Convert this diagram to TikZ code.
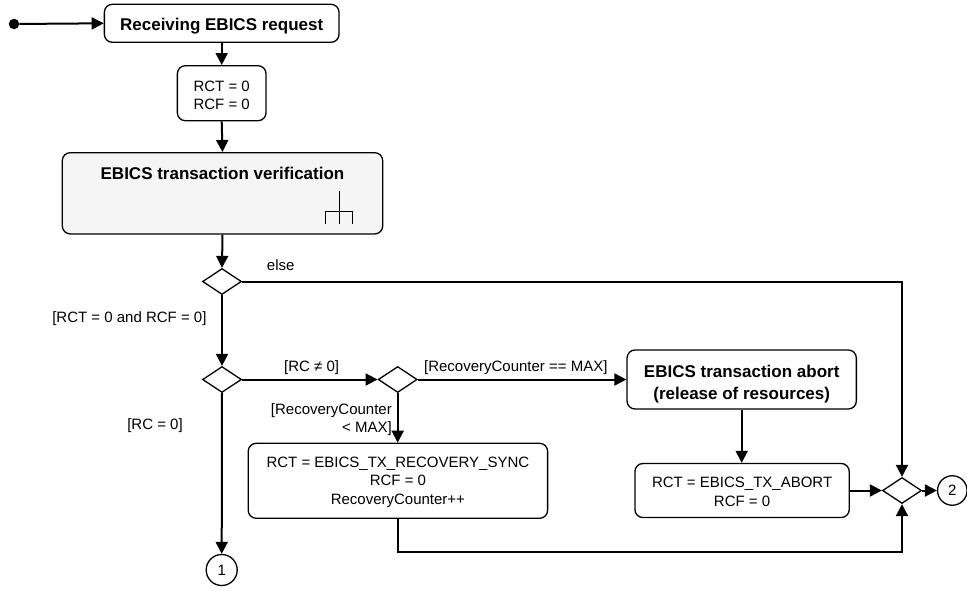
\documentclass[tikz,border=0pt]{standalone}
\usepackage{fontspec}
\setmainfont{Liberation Sans}
\usetikzlibrary{shapes.geometric,arrows.meta}
\begin{document}
\begin{tikzpicture}[x=1pt,y=-1pt,
  conn/.style={line width=2pt,-{Triangle[length=12pt,width=12pt]}},
  box/.style={draw,line width=1.3pt,rounded corners=8pt,inner sep=0pt,align=center,
    text depth=0pt,font=\fontsize{15}{18.7}\selectfont},
  boldbox/.style={box,font=\fontsize{17}{21.6}\selectfont\bfseries},
  dec/.style={draw,diamond,line width=1.3pt,minimum width=39pt,minimum height=26pt,inner sep=0pt},
  conncircle/.style={draw,circle,line width=1.3pt,minimum size=31pt,inner sep=0pt,
    font=\fontsize{15}{18}\selectfont},
  lbl/.style={inner sep=0pt,font=\fontsize{15}{18.7}\selectfont,align=center,anchor=base}
]
\useasboundingbox (0,0) rectangle (967,590);

% nodes
\node[circle,fill=black,minimum size=10.5pt,inner sep=0pt] (start) at (14,24) {};
\node[boldbox,text height=13.6pt,minimum width=234.7pt,minimum height=38pt] (recv) at (221.7,23.3) {Receiving EBICS request};
\node[box,text height=33pt,minimum width=88.7pt,minimum height=55pt] (rct) at (221.7,93.2) {RCT = 0\\RCF = 0};
\node[box,fill=black!4,minimum width=320.4pt,minimum height=81.3pt] (verif) at (222.5,193.3) {};
\node[lbl,font=\fontsize{17}{21}\selectfont\bfseries] (veriftext) at (222.5,179.4) {EBICS transaction verification};
\node[dec] (d1) at (222,281.5) {};
\node[dec] (d2) at (222,379.5) {};
\node[dec] (d2b) at (397.7,379.5) {};
\node[boldbox,text height=39.8pt,minimum width=229.3pt,minimum height=59pt] (abort) at (741.7,379.5) {EBICS transaction abort\\(release of resources)};
\node[box,text height=47.2pt,minimum width=299.4pt,minimum height=75pt] (recov) at (397.9,480.8) {RCT = EBICS\_TX\_RECOVERY\_SYNC\\RCF = 0\\RecoveryCounter++};
\node[box,text height=31.8pt,minimum width=214.3pt,minimum height=54pt] (abortrct) at (742.1,490.5) {RCT = EBICS\_TX\_ABORT\\RCF = 0};
\node[dec] (d3) at (902,490.5) {};
\node[conncircle] (c1) at (221.7,570) {1};
\node[conncircle,minimum size=29.5pt] (c2) at (952.3,490.5) {2};
\coordinate (bottomline) at (0,551.7);

% fork symbol
\draw[line width=1.1pt] (339.3,190.7) -- (339.3,224)
  (325.7,224) -- (325.7,211.7) -- (352.7,211.7) -- (352.7,224);

% labels
\node[lbl] (lelse) at (280.7,270.7) {else};
\node[lbl] (lrct) at (129.4,322.4) {[RCT = 0 and RCF = 0]};
\node[lbl] (lrcne) at (311.7,371.6) {[RC ≠ 0]};
\node[lbl] (lrcmax) at (515.8,371.6) {[RecoveryCounter == MAX]};
\node[lbl,align=right,anchor=east,text height=30pt,text depth=0pt] (lrclt) at (392,417.7) {[RecoveryCounter\\< MAX]};
\node[lbl] (lrc0) at (155,429.4) {[RC = 0]};

% connectors
\draw[conn] (start) -- (recv.west);
\draw[conn] (recv.south) -- (rct.north);
\draw[conn] (rct.south) -- (verif.north);
\draw[conn] (verif.south) -- (d1.north);
\draw[conn] (d1.east) -- (d1.east -| d3.north) -- (d3.north);
\draw[conn] (d1.south) -- (d2.north);
\draw[conn] (d2.east) -- (d2b.west);
\draw[conn] (d2b.east) -- (abort.west);
\draw[conn] (d2b.south) -- (recov.north -| d2b.south);
\draw[conn] (d2.south) -- (c1.north);
\draw[conn] (abort.south) -- (abortrct.north -| abort.south);
\draw[conn] (abortrct.east) -- (d3.west);
\draw[conn] (d3.east) -- (c2.west);
\draw[conn] (recov.south) -- (recov.south |- bottomline) -| (d3.south);
\end{tikzpicture}
\end{document}
